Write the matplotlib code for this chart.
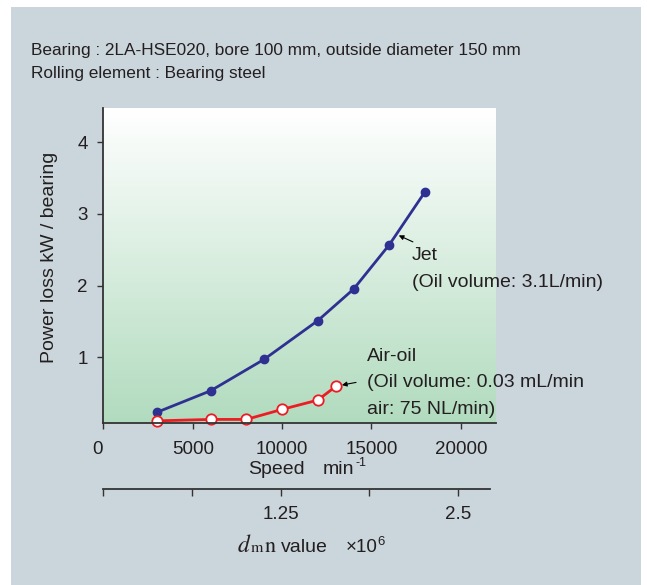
import numpy as np
import matplotlib
matplotlib.use("Agg")
import matplotlib.pyplot as plt
from matplotlib.patches import Rectangle
from matplotlib.colors import LinearSegmentedColormap
from matplotlib.transforms import ScaledTranslation

plt.rcParams['font.family'] = ['Liberation Sans', 'DejaVu Sans']

# ---- data ----
jet_speed = [3000, 6000, 9000, 12000, 14000, 16000, 18000]
jet_loss = [0.23, 0.53, 0.97, 1.51, 1.95, 2.57, 3.31]
airoil_speed = [3000, 6000, 8000, 10000, 12000, 13000]
airoil_loss = [0.11, 0.13, 0.13, 0.27, 0.40, 0.59]
x_ticks = [0, 5000, 10000, 15000, 20000]
x_ticklabels = ['0', '5000', '10000', '15000', '20000']
y_ticks = [1, 2, 3, 4]
dmn_ticks = [0, 5000, 10000, 15000, 20000]
dmn_ticklabels = ['', '', '1.25', '', '2.5']

W, H = 647, 585
fig = plt.figure(figsize=(W / 100, H / 100), dpi=100)
fig.patch.set_facecolor('white')

def fx(px):
    return px / W

def fy(py):
    return 1 - py / H

# outer panel
fig.patches.append(Rectangle((fx(11), 0), fx(641) - fx(11), fy(7), transform=fig.transFigure,
                             facecolor='#cbd5dc', edgecolor='none', zorder=-5))

TXT = '#231f20'
FS = 14
FT = 13.5

# title lines
fig.text(fx(31), fy(55), 'Bearing : 2LA-HSE020, bore 100 mm, outside diameter 150 mm',
         fontsize=12.4, color=TXT, va='baseline', ha='left')
fig.text(fx(31), fy(78), 'Rolling element : Bearing steel',
         fontsize=12.4, color=TXT, va='baseline', ha='left')

# main axes
L, R, T, B = 103, 496, 108, 423
ax = fig.add_axes([fx(L), fy(B), fx(R) - fx(L), fy(T) - fy(B)])
ax.set_zorder(2)
ax.set_facecolor('none')
xlim = (-20, 21970)
ylim = (0.08, 4.48)

cmap = LinearSegmentedColormap.from_list('g', ['#ffffff', '#b1dbbe'])
grad = np.linspace(0, 1, 256).reshape(-1, 1)
ax.imshow(grad, cmap=cmap, extent=[xlim[0], xlim[1], ylim[0], ylim[1]], origin='upper',
          aspect='auto', zorder=0, interpolation='bilinear')
ax.set_xlim(*xlim)
ax.set_ylim(*ylim)

ax.plot(jet_speed, jet_loss, color='#2e3192', lw=2.0, marker='o', ms=6,
        mfc='#2e3192', mec='#2e3192', zorder=3, clip_on=False)
ax.plot(airoil_speed, airoil_loss, color='#ed1c24', lw=2.0, marker='o', ms=7.5,
        mfc='white', mec='#ed1c24', mew=1.3, zorder=3, clip_on=False)

for s in ['top', 'right']:
    ax.spines[s].set_visible(False)
for s in ['left', 'bottom']:
    ax.spines[s].set_color('#333333')
    ax.spines[s].set_linewidth(1.3)
    ax.spines[s].set_zorder(4)

ax.set_xticks(x_ticks)
ax.set_xticklabels(x_ticklabels)
ax.set_yticks(y_ticks)
ax.tick_params(axis='both', direction='out', length=4, width=1.0, color='#333333',
               labelsize=FT, labelcolor=TXT)
ax.tick_params(axis='x', pad=9)
ax.tick_params(axis='y', pad=7)
lbl0 = ax.get_xticklabels()[0]
lbl0.set_transform(lbl0.get_transform() + ScaledTranslation(-6 / 100, 0, fig.dpi_scale_trans))

# annotations
ax.annotate('', xy=(16530, 2.70), xytext=(17320, 2.61),
            arrowprops=dict(arrowstyle='-|>', color='black', lw=0.8, mutation_scale=7,
                            shrinkA=0, shrinkB=0))
ax.annotate('', xy=(13350, 0.61), xytext=(14140, 0.647),
            arrowprops=dict(arrowstyle='-|>', color='black', lw=0.8, mutation_scale=7,
                            shrinkA=0, shrinkB=0))

fig.text(fx(412), fy(260), 'Jet', fontsize=FS, color=TXT, va='baseline', zorder=5)
fig.text(fx(412), fy(287), '(Oil volume: 3.1L/min)', fontsize=FS, color=TXT, va='baseline', zorder=5)
fig.text(fx(367), fy(361), 'Air-oil', fontsize=FS, color=TXT, va='baseline', zorder=5)
fig.text(fx(367), fy(387), '(Oil volume: 0.03 mL/min', fontsize=FS, color=TXT, va='baseline', zorder=5)
fig.text(fx(367), fy(414), 'air: 75 NL/min)', fontsize=FS, color=TXT, va='baseline', zorder=5)

# axis labels
fig.text(fx(50), fy(257), 'Power loss kW / bearing', fontsize=FS, color=TXT,
         rotation=90, ha='center', va='center')
fig.text(fx(248), fy(474), 'Speed', fontsize=FS, color=TXT, va='baseline')
fig.text(fx(323), fy(474), 'min', fontsize=FS, color=TXT, va='baseline')
fig.text(fx(355), fy(466), '-1', fontsize=9, color=TXT, va='baseline')

# dmn axis
ax2 = fig.add_axes([fx(L), fy(489), fx(493) - fx(L), 0.001])
ax2.set_facecolor('none')
ax2.set_xlim(*xlim)
for s in ['top', 'right', 'left']:
    ax2.spines[s].set_visible(False)
ax2.spines['bottom'].set_color('#333333')
ax2.spines['bottom'].set_linewidth(1.3)
ax2.spines['bottom'].set_bounds(dmn_ticks[0], 21800)
ax2.set_yticks([])
ax2.set_xticks(dmn_ticks)
ax2.set_xticklabels(dmn_ticklabels)
ax2.tick_params(axis='x', direction='out', length=5, width=1.0, color='#333333',
                labelsize=FT, labelcolor=TXT, pad=7)

SER = 'STIXGeneral'
fig.text(fx(238), fy(552), 'd', fontsize=17, family=SER, style='italic', color=TXT, va='baseline')
fig.text(fx(251), fy(552), 'm', fontsize=11.5, family=SER, color=TXT, va='baseline')
fig.text(fx(265), fy(552), 'n', fontsize=16, family=SER, color=TXT, va='baseline')
fig.text(fx(281), fy(552), 'value', fontsize=FS, color=TXT, va='baseline')
fig.text(fx(346), fy(552), '×10', fontsize=13.5, color=TXT, va='baseline')
fig.text(fx(377.5), fy(545), '6', fontsize=9.5, color=TXT, va='baseline')

fig.savefig('out.png', dpi=100, facecolor=fig.get_facecolor())
